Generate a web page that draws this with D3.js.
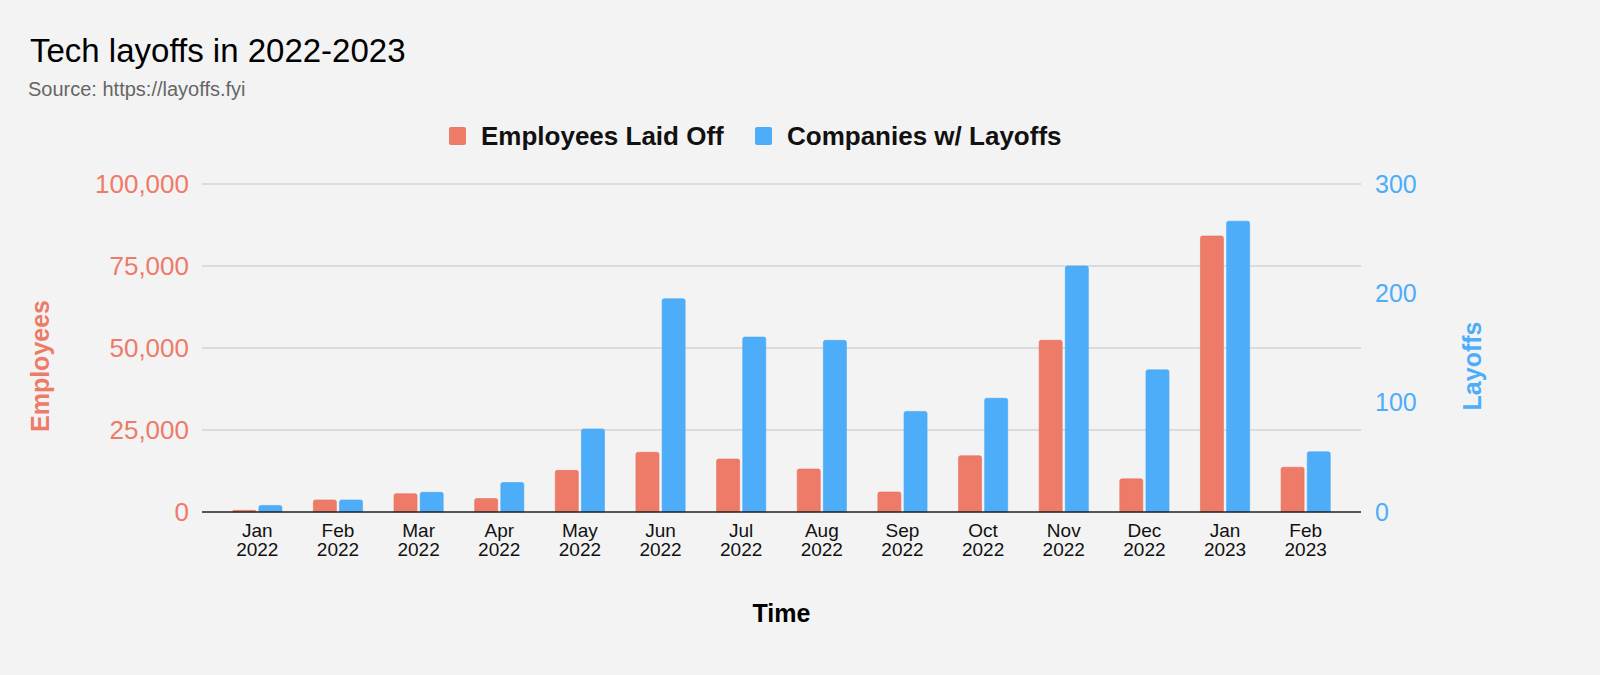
<!DOCTYPE html>
<html>
<head>
<meta charset="utf-8">
<script src="https://cdn.jsdelivr.net/npm/d3@7"></script>
<style>
  html, body { margin: 0; padding: 0; background: #f3f3f3; }
  svg { display: block; font-family: "Liberation Sans", Arial, sans-serif; }
</style>
</head>
<body>
<svg id="chart" width="1600" height="675"></svg>
<script>
// data
var months = ['Jan', 'Feb', 'Mar', 'Apr', 'May', 'Jun', 'Jul', 'Aug', 'Sep', 'Oct', 'Nov', 'Dec', 'Jan', 'Feb'];
var years = ['2022', '2022', '2022', '2022', '2022', '2022', '2022', '2022', '2022', '2022', '2022', '2022', '2023', '2023'];
var employees = [510, 3680, 5580, 4100, 12700, 18200, 16150, 13100, 6100, 17150, 52350, 10100, 84150, 13650];
var companies = [6, 11, 18, 27, 76, 195, 160, 157, 92, 104, 225, 130, 266, 55];
var leftTicks = [0, 25000, 50000, 75000, 100000];
var rightTicks = [0, 100, 200, 300];

var RED = '#ee7a68', BLUE = '#4dadf9';

var svg = d3.select('#chart');
var m = {left: 202, right: 1361, top: 184, bottom: 512};

var x = d3.scaleBand()
    .domain(d3.range(months.length))
    .range([217, 1346])
    .paddingInner(0.39)
    .paddingOuter(0.195);
var x2 = d3.scaleBand().domain(['e', 'c']).range([0, x.bandwidth()]).paddingInner(0.12);
var yL = d3.scaleLinear().domain([0, 100000]).range([m.bottom, m.top]);
var yR = d3.scaleLinear().domain([0, 300]).range([m.bottom, m.top]);

// title
svg.append('text').attr('x', 30).attr('y', 62)
    .attr('font-size', 33).attr('fill', '#000').text('Tech layoffs in 2022-2023');
svg.append('text').attr('x', 28).attr('y', 96)
    .attr('font-size', 20).attr('fill', '#666').text('Source: https://layoffs.fyi');

// legend
var leg = [{name: 'Employees Laid Off', c: RED, x: 449}, {name: 'Companies w/ Layoffs', c: BLUE, x: 755}];
var lg = svg.selectAll('.leg').data(leg).enter().append('g').attr('class', 'leg');
lg.append('rect').attr('x', function (d) { return d.x; }).attr('y', 127)
    .attr('width', 17).attr('height', 18).attr('rx', 2).attr('fill', function (d) { return d.c; });
lg.append('text').attr('x', function (d) { return d.x + 32; }).attr('y', 145)
    .attr('font-size', 26).attr('font-weight', 'bold').attr('fill', '#111')
    .text(function (d) { return d.name; });

// gridlines
svg.append('g').selectAll('line').data(leftTicks.slice(1)).enter().append('line')
    .attr('x1', m.left).attr('x2', m.right)
    .attr('y1', function (d) { return yL(d); }).attr('y2', function (d) { return yL(d); })
    .attr('stroke', '#c4c4c4').attr('stroke-width', 1.2);

// left axis labels
svg.append('g').selectAll('text').data(leftTicks).enter().append('text')
    .attr('x', 189).attr('y', function (d) { return yL(d); }).attr('dy', '0.35em')
    .attr('text-anchor', 'end').attr('font-size', 26).attr('fill', RED)
    .text(function (d) { return d3.format(',')(d); });

// right axis labels
svg.append('g').selectAll('text').data(rightTicks).enter().append('text')
    .attr('x', 1375).attr('y', function (d) { return yR(d); }).attr('dy', '0.35em')
    .attr('font-size', 25).attr('fill', BLUE)
    .text(function (d) { return d; });

// bars, rounded top corners only
function barPath(x0, w, y0, y1, r) {
    r = Math.min(r, (y1 - y0) / 2, w / 2);
    return 'M' + x0 + ',' + y1 + 'V' + (y0 + r) + 'Q' + x0 + ',' + y0 + ' ' + (x0 + r) + ',' + y0 +
        'H' + (x0 + w - r) + 'Q' + (x0 + w) + ',' + y0 + ' ' + (x0 + w) + ',' + (y0 + r) + 'V' + y1 + 'Z';
}
var g = svg.append('g').selectAll('g').data(months).enter().append('g')
    .attr('transform', function (d, i) { return 'translate(' + x(i) + ',0)'; });
g.append('path')
    .attr('d', function (d, i) { return barPath(x2('e'), x2.bandwidth(), yL(employees[i]), m.bottom, 2); })
    .attr('fill', RED).attr('stroke', '#e8705e').attr('stroke-width', 0.6);
g.append('path')
    .attr('d', function (d, i) { return barPath(x2('c'), x2.bandwidth(), yR(companies[i]), m.bottom, 2); })
    .attr('fill', BLUE).attr('stroke', '#44a6f4').attr('stroke-width', 0.6);

// baseline
svg.append('line').attr('x1', m.left).attr('x2', m.right)
    .attr('y1', m.bottom).attr('y2', m.bottom).attr('stroke', '#222').attr('stroke-width', 1.3);

// x labels
var xl = svg.append('g').selectAll('text').data(months).enter().append('text')
    .attr('x', function (d, i) { return x(i) + x.bandwidth() / 2; })
    .attr('text-anchor', 'middle').attr('font-size', 19).attr('fill', '#111');
xl.append('tspan').attr('x', function (d, i) { return x(i) + x.bandwidth() / 2; }).attr('y', 537)
    .text(function (d) { return d; });
xl.append('tspan').attr('x', function (d, i) { return x(i) + x.bandwidth() / 2; }).attr('y', 556)
    .text(function (d, i) { return years[i]; });

// axis titles
svg.append('text').attr('x', (m.left + m.right) / 2).attr('y', 622)
    .attr('text-anchor', 'middle').attr('font-size', 25).attr('font-weight', 'bold').text('Time');
svg.append('text').attr('transform', 'translate(49,366) rotate(-90)')
    .attr('text-anchor', 'middle').attr('font-size', 25).attr('font-weight', 'bold')
    .attr('fill', RED).text('Employees');
svg.append('text').attr('transform', 'translate(1481,366) rotate(-90)')
    .attr('text-anchor', 'middle').attr('font-size', 25).attr('font-weight', 'bold')
    .attr('fill', BLUE).text('Layoffs');
</script>
</body>
</html>
